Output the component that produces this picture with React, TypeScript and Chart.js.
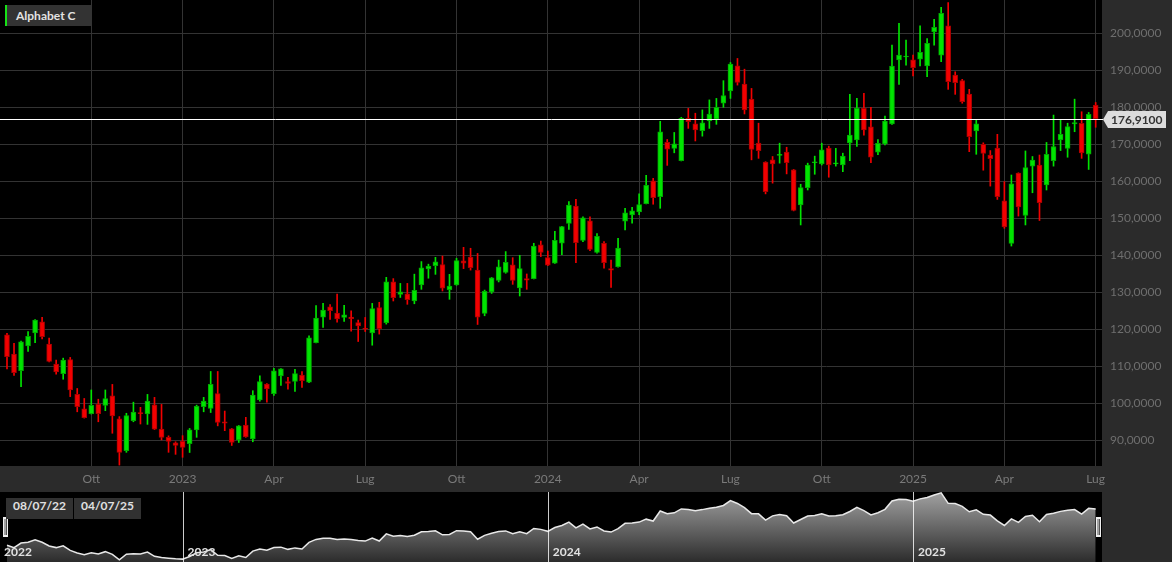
import React, { useEffect, useRef } from 'react';
import { Chart, registerables } from 'chart.js';

Chart.register(...registerables);

// Weekly candles, Alphabet C, Jul 2022 - Jul 2025
const OPEN = [
  118.5, 113.3, 108.8, 115.5, 119.0, 122.0, 116.0, 110.6, 108.0, 111.8,
  102.4, 98.5, 97.2, 99.7, 99.45, 102.0, 95.8, 87.2, 95.3, 97.5,
  97.1, 99.6, 93.0, 90.8, 89.3, 89.7, 89.1, 92.8, 99.1, 98.6,
  102.6, 95.0, 93.1, 90.1, 94.1, 90.35, 100.9, 105.2, 102.6, 107.4,
  105.85, 105.9, 107.6, 105.7, 116.4, 123.3, 126.1, 124.4, 123.2, 123.3,
  121.8, 120.2, 119.0, 125.85, 121.8, 132.8, 129.4, 129.6, 127.7, 132.0,
  136.3, 137.2, 137.5, 130.7, 132.0, 138.5, 139.55, 136.0, 124.3, 130.1,
  133.2, 135.4, 137.4, 131.15, 133.7, 133.7, 142.8, 139.35, 137.9, 143.25,
  148.6, 153.3, 144.0, 149.3, 140.8, 143.2, 136.4, 136.9, 149.2, 150.9,
  151.7, 153.95, 160.1, 155.85, 170.5, 168.9, 165.6, 177.0, 175.5, 173.7,
  176.3, 176.85, 181.1, 184.4, 191.2, 186.3, 182.2, 170.3, 165.2, 165.8,
  167.0, 167.9, 163.1, 153.6, 158.3, 165.0, 164.7, 169.0, 164.7, 164.4,
  170.4, 171.15, 179.7, 174.7, 167.9, 170.1, 175.5, 192.8, 193.6, 192.8,
  193.0, 191.2, 200.4, 194.1, 202.0, 188.7, 187.2, 183.6, 173.6, 170.0,
  167.1, 169.0, 154.7, 143.2, 162.2, 150.8, 164.1, 164.4, 159.0, 165.6,
  171.2, 168.9, 175.5, 175.7, 167.3, 180.6,
];
const HIGH = [
  118.9, 116.2, 116.8, 119.4, 122.6, 123.2, 117.6, 111.7, 112.2, 112.4,
  104.0, 101.3, 103.6, 101.1, 103.6, 105.1, 96.4, 97.3, 100.3, 98.9,
  102.4, 101.6, 99.7, 91.2, 89.6, 91.25, 93.2, 99.5, 101.6, 108.6,
  108.6, 97.9, 93.2, 94.0, 96.2, 103.4, 107.4, 105.3, 109.45, 109.4,
  107.0, 109.2, 108.55, 118.2, 126.4, 127.0, 126.7, 129.5, 126.5, 125.0,
  122.5, 123.2, 127.0, 127.3, 134.05, 133.7, 132.4, 132.4, 134.9, 138.3,
  137.6, 139.45, 139.8, 134.85, 139.2, 142.15, 141.9, 140.5, 130.6, 134.0,
  138.7, 141.0, 139.35, 140.0, 134.95, 143.25, 143.85, 141.15, 146.5, 147.8,
  154.5, 155.1, 150.4, 150.4, 145.9, 143.7, 138.7, 144.6, 152.7, 152.95,
  156.6, 161.6, 160.8, 176.2, 171.3, 173.2, 177.3, 179.7, 178.4, 179.3,
  182.0, 182.4, 187.2, 192.1, 193.2, 190.3, 185.1, 175.7, 165.3, 166.7,
  170.3, 169.2, 163.2, 159.2, 164.9, 166.8, 170.3, 169.5, 168.9, 167.6,
  183.5, 182.4, 183.8, 180.0, 171.3, 177.6, 196.8, 202.7, 198.2, 194.1,
  202.0, 198.6, 203.8, 207.0, 208.3, 189.6, 187.55, 184.85, 176.7, 170.4,
  168.3, 172.7, 159.9, 161.7, 162.3, 168.2, 166.7, 167.1, 170.5, 177.9,
  176.6, 175.7, 182.2, 178.8, 178.6, 181.3,
];
const LOW = [
  109.3, 107.5, 104.5, 114.0, 116.4, 117.4, 111.2, 107.9, 106.5, 101.8,
  97.7, 96.0, 97.1, 95.0, 98.0, 91.9, 83.3, 86.75, 95.0, 94.4,
  94.3, 92.9, 90.1, 86.75, 86.2, 85.4, 86.7, 90.8, 97.7, 97.5,
  93.9, 92.6, 88.6, 89.4, 90.8, 89.6, 100.6, 100.3, 102.1, 104.8,
  103.8, 103.2, 104.3, 105.6, 116.3, 120.5, 122.7, 121.9, 122.1, 119.5,
  116.7, 119.4, 115.7, 118.7, 121.4, 127.65, 128.6, 126.75, 126.9, 130.8,
  133.8, 134.85, 130.35, 128.1, 131.9, 136.4, 136.0, 121.3, 123.65, 129.7,
  132.8, 135.15, 132.15, 129.0, 130.8, 133.6, 139.65, 137.2, 137.8, 140.2,
  147.0, 138.0, 143.7, 141.25, 140.55, 136.5, 131.3, 136.8, 146.85, 148.65,
  150.97, 153.9, 153.8, 152.7, 164.3, 167.7, 165.5, 174.3, 170.9, 172.2,
  174.3, 175.4, 180.0, 182.4, 186.0, 178.2, 165.8, 166.2, 156.6, 159.5,
  164.9, 162.0, 152.0, 148.2, 157.65, 161.9, 164.4, 161.1, 164.1, 162.6,
  165.6, 169.4, 172.5, 165.0, 167.2, 169.8, 175.4, 186.2, 191.4, 188.5,
  191.2, 188.3, 196.8, 192.3, 184.85, 183.5, 181.1, 168.0, 167.3, 163.0,
  158.7, 155.1, 147.3, 142.5, 150.6, 148.2, 156.9, 149.4, 157.65, 164.1,
  168.3, 166.5, 173.4, 166.2, 163.2, 174.6,
];
const CLOSE = [
  112.6, 108.3, 116.6, 118.1, 122.5, 118.0, 111.3, 108.5, 111.7, 103.6,
  99.1, 96.1, 99.45, 97.2, 101.3, 96.6, 86.7, 96.7, 97.65, 97.2,
  100.6, 93.0, 90.8, 89.7, 88.6, 88.1, 92.8, 99.2, 100.6, 105.1,
  94.8, 94.6, 89.4, 93.9, 90.9, 102.25, 105.9, 103.9, 108.8, 109.3,
  105.4, 108.0, 106.1, 117.7, 123.0, 125.2, 125.0, 122.8, 123.9, 122.9,
  120.9, 120.0, 125.6, 120.2, 132.8, 128.55, 130.1, 128.0, 130.5, 136.6,
  137.1, 138.2, 131.1, 131.7, 138.55, 137.9, 136.65, 123.3, 130.25, 133.9,
  136.85, 138.1, 133.2, 136.4, 133.3, 142.5, 140.8, 137.3, 144.05, 147.75,
  153.6, 143.4, 150.1, 141.6, 145.1, 138.0, 136.0, 141.97, 151.5, 152.0,
  153.7, 158.9, 155.6, 173.4, 168.7, 170.1, 177.0, 176.1, 173.9, 175.8,
  178.2, 180.0, 183.2, 191.7, 186.7, 179.3, 168.6, 168.3, 157.2, 164.7,
  167.2, 165.0, 152.1, 158.3, 164.4, 165.2, 168.5, 164.4, 164.9, 166.8,
  172.5, 179.7, 173.9, 166.5, 170.25, 176.3, 191.15, 194.1, 193.8, 190.7,
  194.85, 197.3, 201.6, 205.4, 186.9, 186.65, 181.5, 172.05, 175.5, 167.55,
  166.1, 155.85, 147.7, 159.3, 153.1, 163.7, 165.7, 154.2, 167.3, 169.4,
  172.7, 174.8, 175.9, 167.7, 178.1, 176.91,
];

const X_TICK_INDEX = [12, 25, 38, 51, 64, 77, 90, 103, 116, 129, 142, 155];
const X_TICK_LABELS = ['Ott', '2023', 'Apr', 'Lug', 'Ott', '2024', 'Apr', 'Lug', 'Ott', '2025', 'Apr', 'Lug'];
const Y_TICKS = [90, 100, 110, 120, 130, 140, 150, 160, 170, 180, 190, 200];
const YEAR_LINE_INDEX = [25, 77, 129];
const YEAR_LABELS = ['2022', '2023', '2024', '2025'];
const RANGE_LABELS = ['08/07/22', '04/07/25'];
const SERIES_NAME = 'Alphabet C';
const LAST_PRICE = 176.91;

const X_MIN = -0.996;
const X_MAX = 155.9;
const Y_MIN = 83.05;
const Y_MAX = 209.0;
const NAV_Y_MIN = 83;
const NAV_Y_MAX = 207;

const UP = '#00e400';
const UP_EDGE = '#00a800';
const DOWN = '#f20000';
const DOWN_EDGE = '#a80000';
const GRID = '#333333';
const AXIS_BG = '#2b2b2b';
const FONT = 'Lato, "DejaVu Sans", sans-serif';

const fmt = (v: number) => v.toFixed(4).replace('.', ',');

export default function App() {
  const mainRef = useRef<HTMLCanvasElement>(null);
  const navRef = useRef<HTMLCanvasElement>(null);

  useEffect(() => {
    Chart.defaults.font.family = FONT;
    const up = CLOSE.map((c, i) => c >= OPEN[i]);

    const bgPlugin = {
      id: 'bgPlugin',
      beforeDraw(chart: any) {
        const { ctx, chartArea: a, width, height } = chart;
        ctx.save();
        ctx.fillStyle = AXIS_BG;
        ctx.fillRect(0, 0, width, height);
        ctx.fillStyle = '#000';
        ctx.fillRect(a.left, a.top, a.right - a.left, a.bottom - a.top);
        ctx.restore();
      },
    };

    const pricePlugin = {
      id: 'pricePlugin',
      afterDatasetsDraw(chart: any) {
        const { ctx, chartArea: a, scales } = chart;
        const y = Math.round(scales.y.getPixelForValue(LAST_PRICE)) + 0.5;
        ctx.save();
        ctx.strokeStyle = '#ffffff';
        ctx.lineWidth = 1;
        ctx.beginPath();
        ctx.moveTo(a.left, y);
        ctx.lineTo(a.right + 1, y);
        ctx.stroke();
        const tip = a.right + 1;
        const base = tip + 5;
        const right = tip + 63;
        const h = 17;
        ctx.fillStyle = '#dcdcdc';
        ctx.beginPath();
        ctx.moveTo(tip, y);
        ctx.lineTo(base, y - h / 2);
        ctx.lineTo(right, y - h / 2);
        ctx.lineTo(right, y + h / 2);
        ctx.lineTo(base, y + h / 2);
        ctx.closePath();
        ctx.fill();
        ctx.fillStyle = '#333333';
        ctx.font = 'bold 12px ' + FONT;
        ctx.textBaseline = 'middle';
        ctx.textAlign = 'left';
        ctx.fillText(fmt(LAST_PRICE), base + 3, y + 0.5);
        ctx.restore();
      },
    };

    const main = new Chart(mainRef.current as HTMLCanvasElement, {
      type: 'bar',
      data: {
        datasets: [
          {
            label: 'body',
            data: OPEN.map((o, i) => ({ x: i, y: [o, CLOSE[i]] })) as any,
            backgroundColor: up.map((u) => (u ? UP : DOWN)),
            borderColor: up.map((u) => (u ? UP_EDGE : DOWN_EDGE)),
            borderWidth: 1,
            borderSkipped: false,
            barThickness: 5,
            grouped: false,
            minBarLength: 1,
            order: 0,
          } as any,
          {
            label: 'wick',
            data: LOW.map((l, i) => ({ x: i, y: [l, HIGH[i]] })) as any,
            backgroundColor: up.map((u) => (u ? UP : DOWN)),
            borderWidth: 0,
            barThickness: 1,
            grouped: false,
            order: 1,
          } as any,
        ],
      },
      options: {
        responsive: false,
        animation: false,
        maintainAspectRatio: false,
        layout: { padding: 0 },
        plugins: { legend: { display: false }, tooltip: { enabled: false } },
        events: [],
        scales: {
          x: {
            type: 'linear',
            position: 'bottom',
            min: X_MIN,
            max: X_MAX,
            offset: false,
            grid: { color: GRID, drawTicks: false, offset: false },
            border: { display: false },
            ticks: {
              color: '#7a7a7a',
              font: { size: 12, family: FONT },
              padding: 6,
              autoSkip: false,
              maxRotation: 0,
              callback: (v: any) => {
                const k = X_TICK_INDEX.indexOf(Number(v));
                return k >= 0 ? X_TICK_LABELS[k] : '';
              },
            },
            afterBuildTicks: (s: any) => {
              s.ticks = X_TICK_INDEX.map((v) => ({ value: v }));
            },
            afterFit: (s: any) => {
              s.height = 26;
              s.paddingLeft = 0;
              s.paddingRight = 0;
            },
          } as any,
          y: {
            type: 'linear',
            position: 'right',
            min: Y_MIN,
            max: Y_MAX,
            beginAtZero: false,
            grid: { color: GRID, drawTicks: false },
            border: { display: false },
            ticks: {
              color: '#6e6e6e',
              font: { size: 12, family: FONT },
              padding: 8,
              callback: (v: any) => fmt(Number(v)),
            },
            afterBuildTicks: (s: any) => {
              s.ticks = Y_TICKS.map((v) => ({ value: v }));
            },
            afterFit: (s: any) => {
              s.width = 70;
              s.paddingTop = 0;
              s.paddingBottom = 0;
            },
          } as any,
        },
      },
      plugins: [bgPlugin, pricePlugin],
    });

    const navDeco = {
      id: 'navDeco',
      afterDatasetsDraw(chart: any) {
        const { ctx, chartArea: a, scales } = chart;
        const xs = scales.x;
        ctx.save();
        ctx.strokeStyle = 'rgba(255,255,255,0.8)';
        ctx.lineWidth = 1;
        YEAR_LINE_INDEX.forEach((idx) => {
          const px = Math.round(xs.getPixelForValue(idx)) + 0.5;
          ctx.beginPath();
          ctx.moveTo(px, a.top);
          ctx.lineTo(px, a.bottom);
          ctx.stroke();
        });
        ctx.fillStyle = '#e2e2e2';
        ctx.font = 'bold 12px ' + FONT;
        ctx.textBaseline = 'middle';
        ctx.textAlign = 'left';
        YEAR_LABELS.forEach((lab, k) => {
          const px = k === 0 ? a.left + 4 : xs.getPixelForValue(YEAR_LINE_INDEX[k - 1]) + 5;
          ctx.fillText(lab, px, a.top + 60);
        });
        const handle = (x0: number) => {
          ctx.fillStyle = '#f0f0f0';
          ctx.fillRect(x0, a.top + 25, 5, 20);
          ctx.fillStyle = '#555';
          ctx.fillRect(x0 + 1.5, a.top + 27, 1, 16);
          ctx.fillRect(x0 + 3, a.top + 27, 1, 16);
        };
        handle(a.left + 3);
        handle(Math.round(xs.getPixelForValue(CLOSE.length - 1)));
        ctx.restore();
      },
    };

    const nav = new Chart(navRef.current as HTMLCanvasElement, {
      type: 'line',
      data: {
        datasets: [
          {
            data: CLOSE.map((c, i) => ({ x: i, y: c })) as any,
            borderColor: '#e8e8e8',
            borderWidth: 1.5,
            pointRadius: 0,
            tension: 0,
            fill: 'start',
            backgroundColor: (ctx: any) => {
              const { chart } = ctx;
              const area = chart.chartArea;
              if (!area) return 'rgba(128,128,128,0.8)';
              const g = chart.ctx.createLinearGradient(0, area.top, 0, area.bottom);
              g.addColorStop(0, '#a2a2a2');
              g.addColorStop(1, '#2c2c2c');
              return g;
            },
          } as any,
        ],
      },
      options: {
        responsive: false,
        animation: false,
        maintainAspectRatio: false,
        layout: { padding: { left: 0, right: 70, top: 0, bottom: 0 } },
        plugins: { legend: { display: false }, tooltip: { enabled: false } },
        events: [],
        scales: {
          x: { type: 'linear', display: false, min: X_MIN, max: X_MAX } as any,
          y: { type: 'linear', display: false, min: NAV_Y_MIN, max: NAV_Y_MAX } as any,
        },
      },
      plugins: [bgPlugin, navDeco],
    });

    return () => {
      main.destroy();
      nav.destroy();
    };
  }, []);

  const boxText: React.CSSProperties = {
    position: 'absolute',
    top: 498,
    height: 21,
    lineHeight: '21px',
    background: '#313131',
    color: '#e0e0e0',
    font: 'bold 12px ' + FONT,
    textAlign: 'center',
  };

  return (
    <div
      style={{
        position: 'fixed',
        left: 0,
        top: 0,
        width: 1172,
        height: 562,
        background: '#000',
        overflow: 'hidden',
      }}
    >
      <canvas
        ref={mainRef}
        width={1172}
        height={492}
        style={{ position: 'absolute', left: 0, top: 0, display: 'block' }}
      />
      <canvas
        ref={navRef}
        width={1172}
        height={70}
        style={{ position: 'absolute', left: 0, top: 492, display: 'block' }}
      />
      <div
        style={{
          position: 'absolute',
          left: 5,
          top: 5,
          width: 86,
          height: 21,
          boxSizing: 'border-box',
          background: '#333333',
          borderLeft: '2px solid #17e217',
          color: '#e2e2e2',
          font: 'bold 12px ' + FONT,
          lineHeight: '21px',
          paddingLeft: 9,
        }}
      >
        {SERIES_NAME}
      </div>
      <div style={{ ...boxText, left: 6, width: 67 }}>{RANGE_LABELS[0]}</div>
      <div style={{ ...boxText, left: 74, width: 67 }}>{RANGE_LABELS[1]}</div>
    </div>
  );
}
